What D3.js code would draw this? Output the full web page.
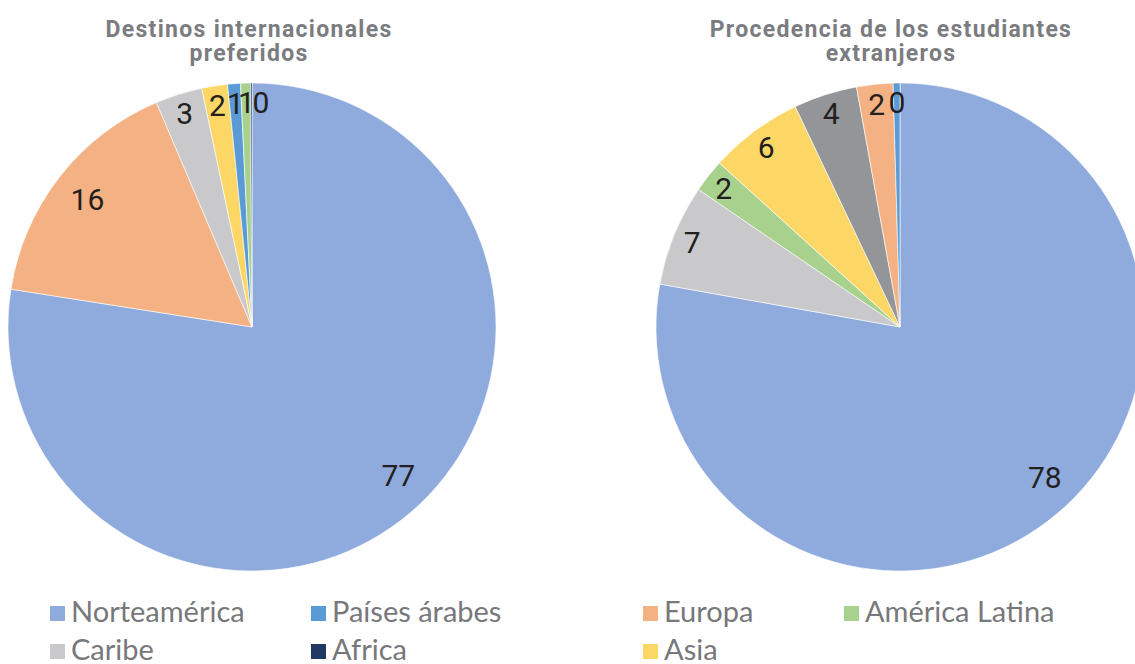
<!DOCTYPE html>
<html>
<head>
<meta charset="utf-8">
<script src="https://cdn.jsdelivr.net/npm/d3@7"></script>
<style>
  body { margin: 0; background: #fff; }
  .title { font-family: Roboto, sans-serif; font-weight: bold; font-size: 23px; letter-spacing: 1.3px; fill: #7b7c7f; }
  .slice-label { font-family: Roboto, sans-serif; font-size: 30px; fill: #231f20; }
  .legend-text { font-family: Lato, sans-serif; font-size: 29px; fill: #77787b; }
</style>
</head>
<body>
<div id="chart"></div>
<script>
var svgWidth = 1135;
var svgHeight = 664;

// legend order (shared by both pies)
var legendNames = ["Norteamérica", "Países árabes", "Europa", "América Latina", "Caribe", "Africa", "Asia"];
var sliceColors = ["#8faadc", "#5b9bd5", "#f4b183", "#a9d18e", "#c9c9cb", "#203864", "#fdd766"];

// pie 1: Destinos internacionales preferidos (%)
var destinosNames = ["Norteamérica", "Europa", "Caribe", "Asia", "Países árabes", "América Latina", "Africa"];
var destinosValues = [77.4, 16.1, 3.1, 1.7, 0.85, 0.65, 0.1];

// pie 2: Procedencia de los estudiantes extranjeros (%)
var procedenciaNames = ["Norteamérica", "Caribe", "América Latina", "Asia", "Otros", "Europa", "Países árabes"];
var procedenciaValues = [77.7, 6.7, 2.2, 6.2, 4.2, 2.4, 0.45];

var color = d3.scaleOrdinal()
  .domain(legendNames.concat(["Otros"]))
  .range(sliceColors.concat(["#939598"]));

var svg = d3.select("#chart")
  .append("svg")
  .attr("width", svgWidth)
  .attr("height", svgHeight);

var radius = 244;

function drawPie(cx, cy, names, values, titleX, titleLines) {
  var data = names.map((n, i) => ({ name: n, value: values[i] }));

  var pie = d3.pie()
    .sort(null)
    .value(d => d.value);

  var arc = d3.arc().innerRadius(0).outerRadius(radius);

  var g = svg.append("g")
    .attr("transform", `translate(${cx}, ${cy})`);

  var arcs = pie(data);

  g.selectAll("path")
    .data(arcs)
    .enter()
    .append("path")
    .attr("d", arc)
    .attr("fill", d => color(d.data.name))
    .attr("stroke", "#fff")
    .attr("stroke-width", 0.6);

  // label positions: big slices further in, thin ones near the rim
  var labels = arcs.map(function(d) {
    var big = d.data.value > 50;
    var r = d.data.value > 10 ? radius * 0.855 : radius * 0.92;
    var a = (d.startAngle + d.endAngle) / 2 - (big ? 0.07 : 0);
    var txt = String(Math.round(d.data.value));
    var w = txt.split("").reduce((s, ch) => s + (ch === "1" ? 9 : 16), 0);
    return { txt: txt, x: Math.sin(a) * r, y: -Math.cos(a) * r, w: w };
  });

  // push crowded labels apart (those along the top rim)
  var top = labels.filter(l => l.y < -radius * 0.8).sort((a, b) => a.x - b.x);
  for (var i = 1; i < top.length; i++) {
    var minX = top[i - 1].x + (top[i - 1].w + top[i].w) / 2 + 2;
    if (top[i].x < minX) top[i].x = minX;
  }

  g.selectAll(".slice-label")
    .data(labels)
    .enter()
    .append("text")
    .attr("class", "slice-label")
    .attr("x", d => d.x)
    .attr("y", d => d.y)
    .attr("text-anchor", "middle")
    .attr("dy", "0.36em")
    .text(d => d.txt);

  // title
  var t = svg.append("text")
    .attr("class", "title")
    .attr("text-anchor", "middle");
  titleLines.forEach(function(line, i) {
    t.append("tspan")
      .attr("x", titleX)
      .attr("y", 37 + i * 24)
      .text(line);
  });
}

drawPie(252, 327, destinosNames, destinosValues, 249, ["Destinos internacionales", "preferidos"]);
drawPie(900, 327, procedenciaNames, procedenciaValues, 891, ["Procedencia de los estudiantes", "extranjeros"]);

// legend
var legendX = [50, 311, 643, 844];
var legend = svg.append("g");

var items = legend.selectAll("g")
  .data(legendNames)
  .enter()
  .append("g")
  .attr("transform", (d, i) => `translate(${legendX[i % 4]}, ${611 + Math.floor(i / 4) * 38})`);

items.append("rect")
  .attr("x", 0)
  .attr("y", -5)
  .attr("width", 15)
  .attr("height", 15)
  .attr("fill", d => color(d));

items.append("text")
  .attr("class", "legend-text")
  .attr("x", 21)
  .attr("y", 11)
  .text(d => d);
</script>
</body>
</html>
